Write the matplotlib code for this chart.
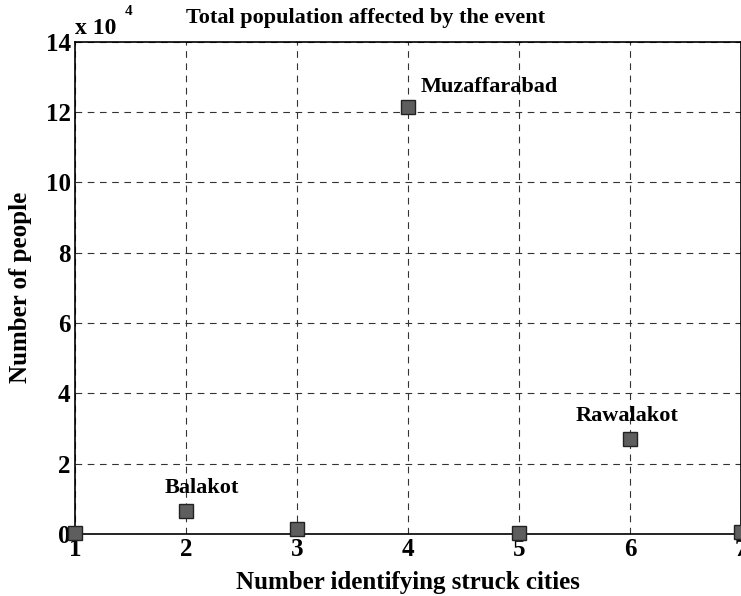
import numpy as np
import matplotlib.pyplot as plt

plt.rcParams['font.family'] = ['Liberation Serif', 'DejaVu Serif']
plt.rcParams['font.weight'] = 'bold'

city_no = [1, 2, 3, 4, 5, 6, 7]
people = [400, 6500, 1300, 121500, 300, 27000, 600]
names = ['', 'Balakot', '', 'Muzaffarabad', '', 'Rawalakot', '']

fig = plt.figure(figsize=(7.41, 5.96), dpi=100)
ax = fig.add_axes([0.101, 0.104, 0.899, 0.826])

y = np.array(people) / 1e4
ax.plot(city_no, y, 's', ms=10, mfc='#5e5e5e', mec='#222222', mew=1.0,
        clip_on=False, zorder=5)

# labels next to the named cities
ax.text(1.81, 1.31, names[1], ha='left', va='center', fontsize=16, fontweight='bold')
ax.text(4.11, 12.72, names[3], ha='left', va='center', fontsize=16, fontweight='bold')
ax.text(5.97, 3.36, names[5], ha='center', va='center', fontsize=16, fontweight='bold')

ax.set_xlim(1, 7)
ax.set_ylim(0, 14)
ax.set_xticks(city_no)
ax.set_yticks(np.arange(0, 15, 2))
ax.tick_params(labelsize=18, length=0, pad=3)
for lb in ax.get_xticklabels() + ax.get_yticklabels():
    lb.set_fontweight('bold')

ax.grid(True, color='#333333', linestyle=(0, (6, 5)), linewidth=0.8)
for s in ax.spines.values():
    s.set_linewidth(1.2)

fig.text(366 / 741, 1 - 18 / 596, 'Total population affected by the event',
         fontsize=16, fontweight='bold', ha='center', va='center')
ax.set_xlabel('Number identifying struck cities', fontsize=18, fontweight='bold', labelpad=7)
ax.set_ylabel('Number of people', fontsize=18, fontweight='bold', labelpad=10)

# exponent note above the y axis
ax.text(0.0, 1.005, 'x 10', transform=ax.transAxes, fontsize=17,
        fontweight='bold', ha='left', va='bottom')
ax.text(0.075, 1.062, '4', transform=ax.transAxes, fontsize=11,
        fontweight='bold', ha='left', va='center')

fig.savefig('out.png', dpi=100)
